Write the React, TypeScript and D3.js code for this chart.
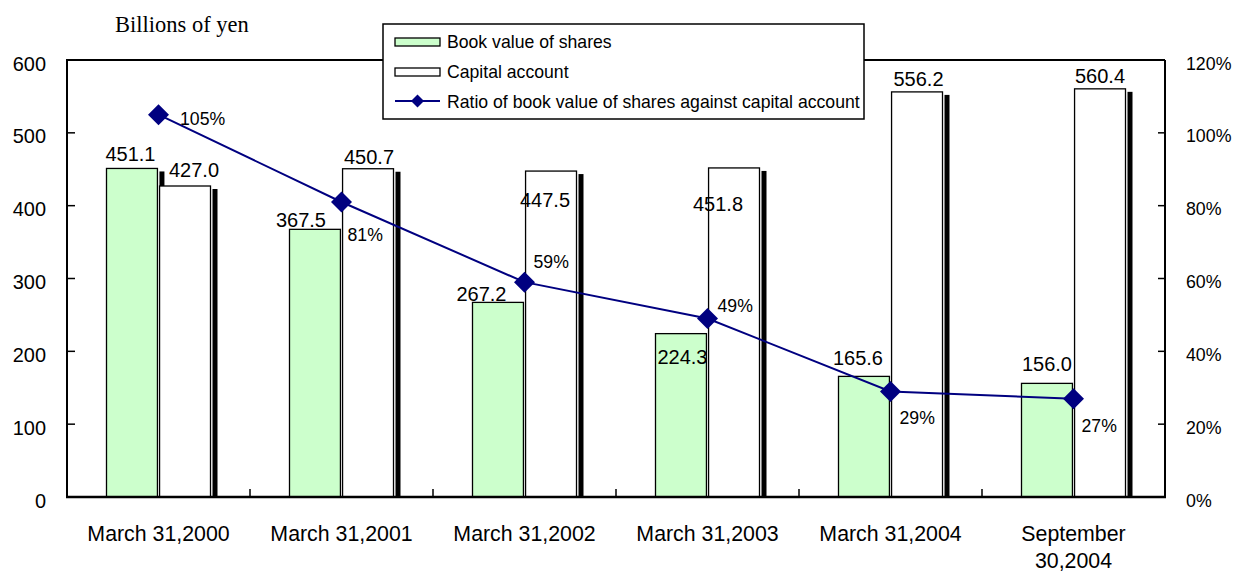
import React from "react";
import * as d3 from "d3";

const categories = ["March 31,2000", "March 31,2001", "March 31,2002", "March 31,2003", "March 31,2004", "September 30,2004"];
const categoryLines = [["March 31,2000"], ["March 31,2001"], ["March 31,2002"], ["March 31,2003"], ["March 31,2004"], ["September", "30,2004"]];
const bookValue = [451.1, 367.5, 267.2, 224.3, 165.6, 156.0];
const capitalAccount = [427.0, 450.7, 447.5, 451.8, 556.2, 560.4];
const ratioPct = [105, 81, 59, 49, 29, 27];
const leftTicks = [0, 100, 200, 300, 400, 500, 600];
const rightTicks = [0, 20, 40, 60, 80, 100, 120];
const seriesNames = ["Book value of shares", "Capital account", "Ratio of book value of shares against capital account"];

// label layout offsets (px) relative to anchors
const bookLabelOffsets = [[-1.5, -7], [-14, -2], [-16.5, -1], [1.5, 30], [-6, -11], [0, -12]];
const capLabelOffsets = [[9, -9], [1, -4.5], [-6, 36], [-16, 43.5], [1.5, -6], [0, -6]];
const pctLabelOffsets = [[21.5, 10], [6, 39], [9, -14], [10, -7], [9, 33], [8, 33]];

const W = 1236, H = 572;
const L = 67, R = 1165, T = 60, B = 497;
const FONT = "'Liberation Sans', Arial, sans-serif";
const GREEN = "#CCFFCC";
const NAVY = "#000080";

function ST(props: { x: number; y: number; sx?: number; size: number; anchor?: string; children: React.ReactNode; family?: string }) {
  const sx = props.sx ?? 1;
  return (
    <g transform={`translate(${props.x},${props.y}) scale(${sx},1)`}>
      <text x={0} y={0} fontSize={props.size} textAnchor={props.anchor || "start"} fontFamily={props.family || FONT} fill="#000">
        {props.children}
      </text>
    </g>
  );
}

export default function App() {
  const x = d3.scaleBand<string>().domain(categories).range([L, R]).paddingInner(0).paddingOuter(0);
  const sub = d3.scaleBand<string>().domain(["book", "cap"]).range([-52, 52]).paddingInner(0.04);
  const y = d3.scaleLinear().domain([0, 600]).range([B, T]);
  const y2 = d3.scaleLinear().domain([0, 120]).range([B, T]);
  const cx = (c: string) => (x(c) as number) + x.bandwidth() / 2;
  const bw = sub.bandwidth();

  const line = d3.line<number>().x((_, i) => cx(categories[i])).y((d) => y2(d));
  const diamond = (px: number, py: number, r: number) => `M${px},${py - r}L${px + r},${py}L${px},${py + r}L${px - r},${py}Z`;

  const bars: { key: string; vals: number[]; fill: string }[] = [
    { key: "book", vals: bookValue, fill: GREEN },
    { key: "cap", vals: capitalAccount, fill: "#FFFFFF" },
  ];

  const bounds = d3.range(categories.length + 1).map((i) => L + i * x.bandwidth());

  return (
    <svg width={W} height={H} style={{ position: "absolute", left: 0, top: 0, background: "#fff" }} fontFamily={FONT}>
      <rect x={0} y={0} width={W} height={H} fill="#fff" />
      <ST x={115} y={32} size={22.5} family="'Liberation Serif', 'Times New Roman', serif">Billions of yen</ST>

      {/* bars with shadows */}
      {categories.map((c, i) => (
        <g key={c}>
          {bars.map((s) => {
            const bx = cx(c) + (sub(s.key) as number);
            const top = y(s.vals[i]);
            return (
              <g key={s.key}>
                <rect x={bx + bw + 2} y={top + 3} width={5} height={B - top - 3} fill="#000" />
                <rect x={bx} y={top} width={bw} height={B - top} fill={s.fill} stroke="#000" strokeWidth={1.3} />
              </g>
            );
          })}
        </g>
      ))}

      {/* frame & axes */}
      <line x1={L} x2={R} y1={T} y2={T} stroke="#000" strokeWidth={2} />
      <line x1={R} x2={R} y1={T} y2={B} stroke="#000" strokeWidth={2} />
      <line x1={L} x2={L} y1={T - 1} y2={B + 1} stroke="#000" strokeWidth={2} />
      <line x1={L - 1} x2={R + 1} y1={B} y2={B} stroke="#000" strokeWidth={2.5} />
      {leftTicks.map((t) => (
        <g key={"l" + t}>
          <line x1={L} x2={L + 8} y1={y(t)} y2={y(t)} stroke="#000" strokeWidth={1.5} />
          <ST x={46} y={y(t) + 10.5} size={21} sx={0.95} anchor="end">{t}</ST>
        </g>
      ))}
      {rightTicks.map((t) => (
        <g key={"r" + t}>
          <line x1={R - 7} x2={R} y1={y2(t)} y2={y2(t)} stroke="#000" strokeWidth={1.5} />
          <ST x={1186} y={y2(t) + 9.5} size={18.5} sx={0.96}>{t}%</ST>
        </g>
      ))}
      {bounds.slice(1, -1).map((bx) => (
        <line key={"xt" + bx} x1={bx} x2={bx} y1={B - 8} y2={B} stroke="#000" strokeWidth={1.5} />
      ))}
      {categories.map((c, i) => (
        <g key={"xl" + c}>
          {categoryLines[i].map((ln, j) => (
            <ST key={j} x={cx(c)} y={541 + j * 27} size={22} sx={0.97} anchor="middle">{ln}</ST>
          ))}
        </g>
      ))}

      {/* ratio line */}
      <path d={line(ratioPct) || ""} fill="none" stroke={NAVY} strokeWidth={2} />
      {ratioPct.map((v, i) => (
        <path key={"m" + i} d={diamond(cx(categories[i]), y2(v), 10.5)} fill={NAVY} />
      ))}

      {/* data labels */}
      {bookValue.map((v, i) => (
        <ST key={"bl" + i} x={cx(categories[i]) + (sub("book") as number) + bw / 2 + bookLabelOffsets[i][0]} y={y(v) + bookLabelOffsets[i][1]} anchor="middle" size={20}>{v.toFixed(1)}</ST>
      ))}
      {capitalAccount.map((v, i) => (
        <ST key={"cl" + i} x={cx(categories[i]) + (sub("cap") as number) + bw / 2 + capLabelOffsets[i][0]} y={y(v) + capLabelOffsets[i][1]} anchor="middle" size={20}>{v.toFixed(1)}</ST>
      ))}
      {ratioPct.map((v, i) => (
        <ST key={"pl" + i} x={cx(categories[i]) + pctLabelOffsets[i][0]} y={y2(v) + pctLabelOffsets[i][1]} size={19} sx={0.93}>{v}%</ST>
      ))}

      {/* legend */}
      <g>
        <rect x={383} y={24} width={481} height={95} fill="#fff" stroke="#000" strokeWidth={1.5} />
        <rect x={395} y={38} width={45} height={8} fill={GREEN} stroke="#000" strokeWidth={1.3} />
        <ST x={447} y={48} size={18} sx={0.98}>{seriesNames[0]}</ST>
        <rect x={395} y={68} width={45} height={8} fill="#fff" stroke="#000" strokeWidth={1.3} />
        <ST x={447} y={78} size={18} sx={0.98}>{seriesNames[1]}</ST>
        <line x1={395} x2={440} y1={101} y2={101} stroke={NAVY} strokeWidth={2} />
        <path d={diamond(417.5, 101, 6.5)} fill={NAVY} />
        <ST x={447} y={107.5} size={18} sx={0.98}>{seriesNames[2]}</ST>
      </g>
    </svg>
  );
}
